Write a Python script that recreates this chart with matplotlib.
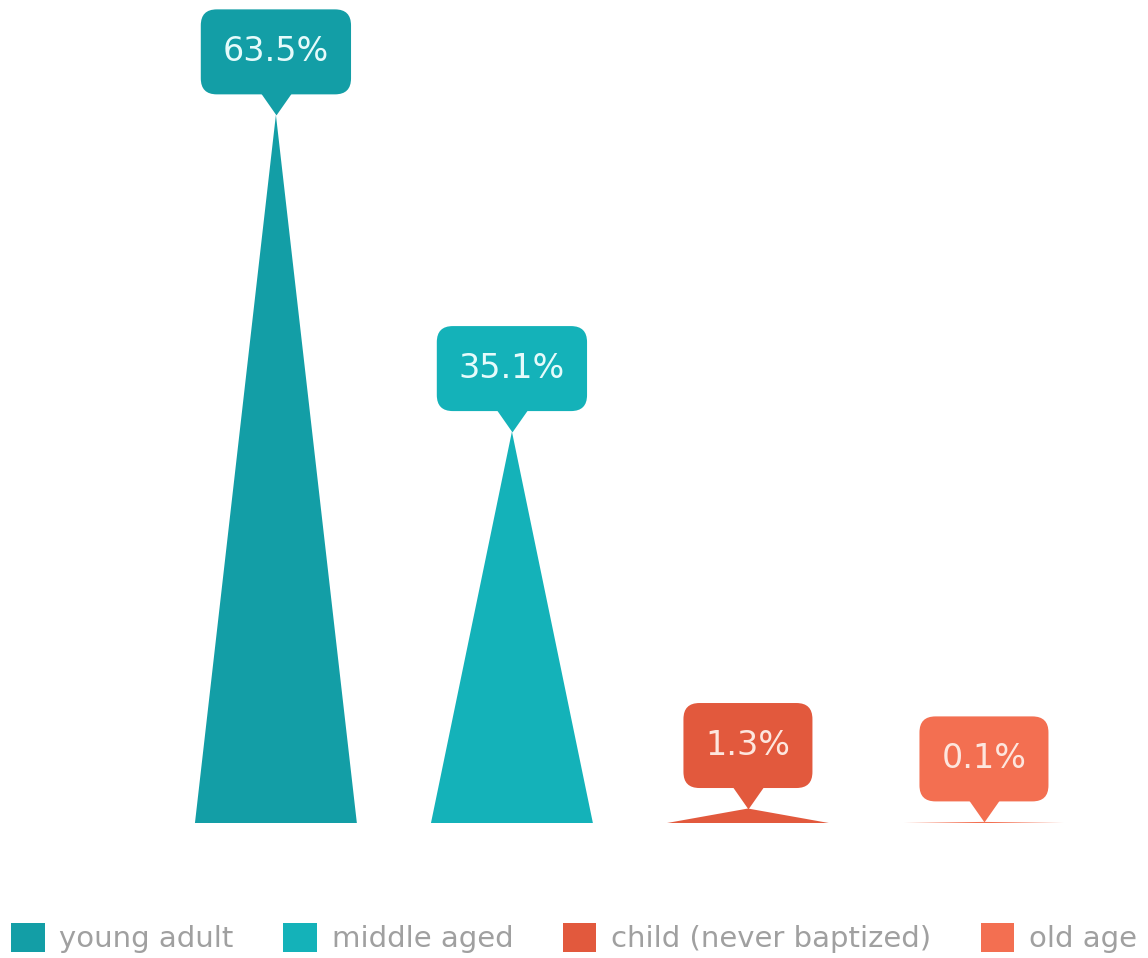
import matplotlib
matplotlib.use('Agg')
import matplotlib.pyplot as plt
import matplotlib.transforms as mtransforms
from matplotlib.patches import Patch, FancyBboxPatch
import numpy as np

# Data
categories = ['young adult', 'middle aged', 'child (never baptized)', 'old age']
values = [63.5, 35.1, 1.3, 0.1]
labels = ['63.5%', '35.1%', '1.3%', '0.1%']
colors = ['#139ea6', '#14b2b9', '#e2593d', '#f36f51']
text_colors = ['#e6fbfb', '#e6fbfb', '#fde6de', '#fde6de']

fig = plt.figure(figsize=(11.48, 9.58), dpi=100)
ax = fig.add_axes([0, 0.1409, 1, 0.8591])
ax.set_xlim(-1.169, 3.695)
ax.set_ylim(0, 73.8)
ax.axis('off')

half_w = 0.343
x = np.arange(len(values))

# Triangular "pictorial" bars
for xi, v, c in zip(x, values, colors):
    ax.fill([xi - half_w, xi, xi + half_w], [0, v, 0], color=c, lw=0)

# Callout labels: text, then rounded box + small pointer behind it
ptr = [(-0.7, 0.5), (0.7, 0.5), (0, -0.5)]
texts = []
for xi, v, lab, c, tc in zip(x, values, labels, colors, text_colors):
    tr = mtransforms.offset_copy(ax.transData, fig=fig, x=0, y=11, units='dots')
    ax.plot(xi, v, marker=ptr, markersize=22, color=c, transform=tr,
            markeredgewidth=0, zorder=3)
    t = ax.annotate(lab, xy=(xi, v), xytext=(0, 63), textcoords='offset pixels',
                    ha='center', va='center', fontsize=24, color=tc,
                    family='DejaVu Sans', zorder=5)
    texts.append((t, c))

fig.canvas.draw()
renderer = fig.canvas.get_renderer()
for t, c in texts:
    bb = t.get_window_extent(renderer)
    cx = (bb.x0 + bb.x1) / 2
    cy = (bb.y0 + bb.y1) / 2
    w = bb.width + 44
    h = 85
    box = FancyBboxPatch((cx - w / 2, cy - h / 2), w, h,
                         boxstyle='round,pad=0,rounding_size=16',
                         fc=c, ec='none', zorder=4, clip_on=False)
    ax.add_artist(box)
    box.set_transform(mtransforms.IdentityTransform())

# Legend
handles = [Patch(facecolor=c, edgecolor='none') for c in colors]
fig.legend(handles, categories, loc='center', bbox_to_anchor=(0.5, 0.021),
           ncol=4, frameon=False, fontsize=21, labelcolor='#a0a0a0',
           handlelength=1.15, handleheight=1.15, handletextpad=0.5,
           columnspacing=1.7, borderpad=0)

fig.savefig('out.png', dpi=100)
